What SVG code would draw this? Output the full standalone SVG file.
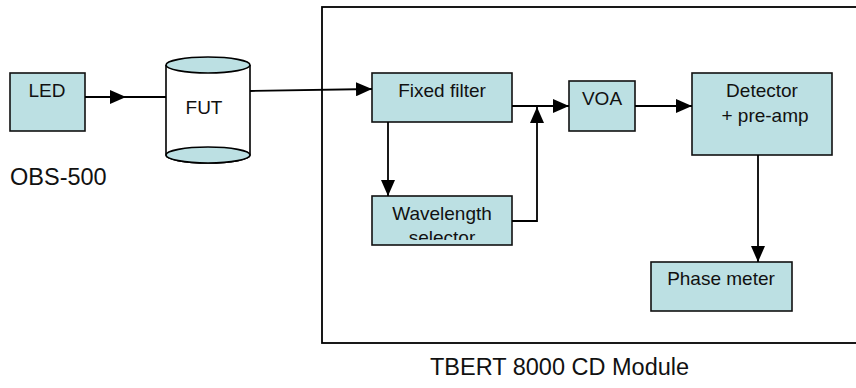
<svg xmlns="http://www.w3.org/2000/svg" width="856" height="388" viewBox="0 0 856 388">
<style>
.box{fill:#bce0e3;stroke:#111;stroke-width:1.6}
.t{font-family:"Liberation Sans",Arial,sans-serif;font-size:19px;fill:#111;text-anchor:middle}
.lbl{font-family:"Liberation Sans",Arial,sans-serif;font-size:23.5px;fill:#111}
.ln{fill:none;stroke:#000;stroke-width:1.8}
</style>
<defs>
<marker id="ah" markerWidth="16" markerHeight="14" refX="16" refY="7" orient="auto" markerUnits="userSpaceOnUse">
<path d="M0,0 L16,7 L0,14 Z" fill="#000"/>
</marker>
<clipPath id="wsclip"><rect x="372" y="196" width="140" height="44"/></clipPath>
</defs>
<rect x="322" y="7" width="560" height="336" fill="none" stroke="#000" stroke-width="1.8"/>
<text class="lbl" x="430" y="375">TBERT 8000 CD Module</text>
<text class="lbl" x="10" y="185">OBS-500</text>
<g id="led"><rect class="box" x="10" y="73" width="75" height="58"/><text class="t" x="47" y="97">LED</text></g>
<g id="fut">
<path d="M166,65 L166,155 A42,8 0 0 0 250,155 L250,65" fill="#fff" stroke="#000" stroke-width="1.6"/>
<ellipse cx="208" cy="65" rx="42" ry="8" fill="#bce0e3" stroke="#000" stroke-width="1.6"/>
<ellipse cx="208" cy="155" rx="42" ry="8" fill="#bce0e3" stroke="#000" stroke-width="1.6"/>
<text class="t" x="204" y="114">FUT</text>
</g>
<g id="fixed"><rect class="box" x="372" y="73" width="140" height="49"/><text class="t" x="442" y="97">Fixed filter</text></g>
<g id="wavelength"><rect class="box" x="372" y="196" width="140" height="49"/><g clip-path="url(#wsclip)"><text class="t" x="442" y="220">Wavelength</text><text class="t" x="442" y="244">selector</text></g></g>
<g id="voa"><rect class="box" x="569" y="81" width="66" height="50"/><text class="t" x="602" y="105">VOA</text></g>
<g id="detector"><rect class="box" x="692" y="73" width="140" height="82"/><text class="t" x="762" y="97">Detector</text><text class="t" x="765" y="122">+ pre-amp</text></g>
<g id="phase"><rect class="box" x="651" y="262" width="141" height="49"/><text class="t" x="721" y="285">Phase meter</text></g>
<g id="connectors">
<line class="ln" x1="85" y1="97" x2="166" y2="97"/>
<path d="M110,90 L126,97 L110,104 Z" fill="#000"/>
<line class="ln" x1="250" y1="91" x2="372" y2="89" marker-end="url(#ah)"/>
<line class="ln" x1="512" y1="106" x2="569" y2="106" marker-end="url(#ah)"/>
<line class="ln" x1="388" y1="122" x2="388" y2="196" marker-end="url(#ah)"/>
<polyline class="ln" points="512,221 537,221 537,107" marker-end="url(#ah)"/>
<line class="ln" x1="635" y1="106" x2="692" y2="106" marker-end="url(#ah)"/>
<line class="ln" x1="758" y1="155" x2="758" y2="262" marker-end="url(#ah)"/>
</g>
</svg>
